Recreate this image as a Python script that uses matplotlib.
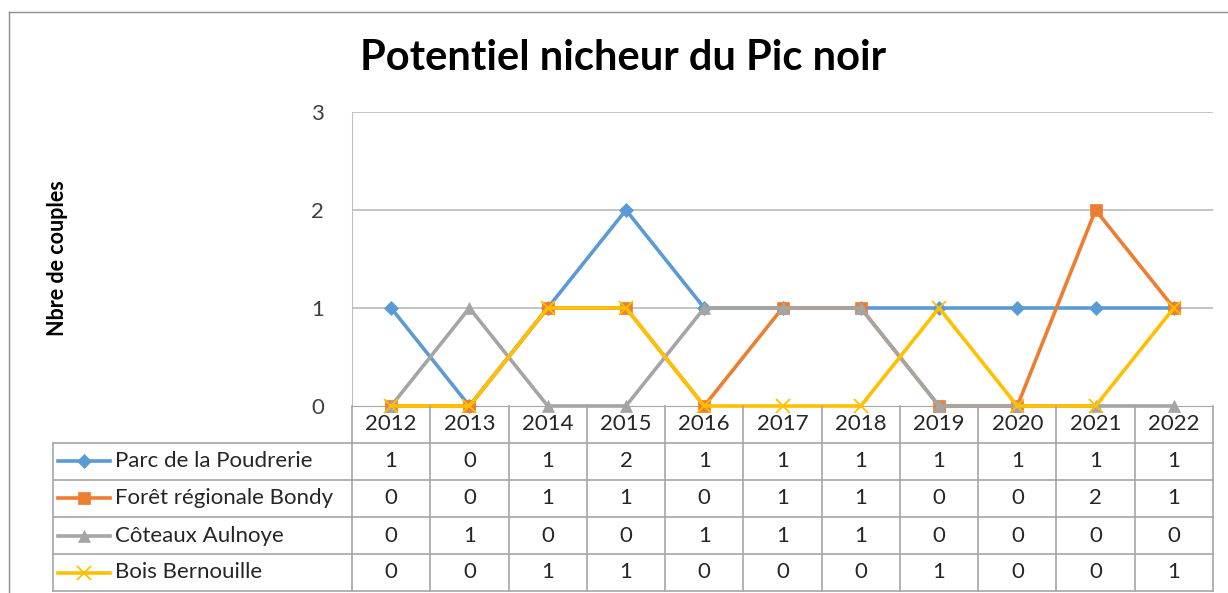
import matplotlib.pyplot as plt
from matplotlib.lines import Line2D

years = ["2012", "2013", "2014", "2015", "2016", "2017", "2018", "2019", "2020", "2021", "2022"]
names = ["Parc de la Poudrerie", "Forêt régionale Bondy", "Côteaux Aulnoye", "Bois Bernouille"]
parc = [1, 0, 1, 2, 1, 1, 1, 1, 1, 1, 1]
foret = [0, 0, 1, 1, 0, 1, 1, 0, 0, 2, 1]
coteaux = [0, 1, 0, 0, 1, 1, 1, 0, 0, 0, 0]
bois = [0, 0, 1, 1, 0, 0, 0, 1, 0, 0, 1]

series = [parc, foret, coteaux, bois]
colors = ["#5B9BD5", "#ED7D31", "#A5A5A5", "#FFC000"]
markers = ["D", "s", "^", "x"]
msizes = [7, 8, 9, 10]

plt.rcParams['font.family'] = ['Lato', 'DejaVu Sans']

W, H = 1228, 593
fig = plt.figure(figsize=(W / 100, H / 100), dpi=100)

grid_col = "#BFBFBF"
tab_col = "#A6A6A6"
txt_col = "#262626"
fs = 16

# outer chart border (only left and top visible, the picture is cropped)
fig.add_artist(Line2D([9 / W, 9 / W], [0, 1 - 12 / H], color="#8C8C8C", lw=1))
fig.add_artist(Line2D([9 / W, 1], [1 - 12 / H, 1 - 12 / H], color="#8C8C8C", lw=1))

# plot area
x0, x1, ytop, ybot = 352, 1213, 112, 406
ax = fig.add_axes([x0 / W, 1 - ybot / H, (x1 - x0) / W, (ybot - ytop) / H])
x = list(range(len(years)))
ax.set_xlim(-0.5, len(years) - 0.5)
ax.set_ylim(0, 3)
ax.set_yticks([0, 1, 2, 3])
ax.set_xticks([])
ax.tick_params(axis="y", length=0, pad=20, labelsize=fs, labelcolor="#404040")
for y in [1, 2, 3]:
    ax.axhline(y, color=grid_col, lw=1.3, zorder=0)
for s in ["top", "right"]:
    ax.spines[s].set_visible(False)
ax.spines["left"].set_color(grid_col)
ax.spines["bottom"].set_color(tab_col)

for vals, c, m, ms in zip(series, colors, markers, msizes):
    ax.plot(x, vals, color=c, lw=2.6, marker=m, markersize=ms,
            markeredgewidth=1.3 if m == "x" else 0.5, clip_on=False, zorder=3)

# data table below the plot
leg_left = 53
cat_w = (x1 - x0) / len(years)
row_h = 37
tx = fig.add_axes([leg_left / W, 1 - (ybot + 5 * row_h) / H,
                   (x1 - leg_left) / W, 5 * row_h / H])
xl = -0.5 - (x0 - leg_left) / cat_w
tx.set_xlim(xl, len(years) - 0.5)
tx.set_ylim(5, 0)
tx.axis("off")

for r in range(1, 6):
    tx.plot([xl, len(years) - 0.5], [r, r], color=tab_col, lw=1.2, clip_on=False)
for k in range(len(years) + 1):
    tx.plot([k - 0.5, k - 0.5], [0, 5], color=tab_col, lw=1.2, clip_on=False)
tx.plot([xl, xl], [1, 5], color=tab_col, lw=1.2, clip_on=False)

for i, yr in enumerate(years):
    tx.text(i, 0.5, yr, ha="center", va="center", fontsize=fs, color=txt_col)

for r, (nm, vals, c, m, ms) in enumerate(zip(names, series, colors, markers, msizes), start=1):
    kx0 = xl + 5 / cat_w
    kx1 = xl + 57 / cat_w
    tx.plot([kx0, kx1], [r + 0.5, r + 0.5], color=c, lw=2.6)
    tx.plot([(kx0 + kx1) / 2], [r + 0.5], color=c, marker=m, markersize=ms,
            markeredgewidth=1.3 if m == "x" else 0.5)
    tx.text(xl + 62 / cat_w, r + 0.5, nm, ha="left", va="center", fontsize=fs, color=txt_col)
    for i, v in enumerate(vals):
        tx.text(i, r + 0.5, str(v), ha="center", va="center", fontsize=fs, color=txt_col)

fig.text(623 / W, 1 - 58 / H, "Potentiel nicheur du Pic noir", ha="center", va="center",
         fontsize=30, fontweight="bold", color="black")
fig.text(58 / W, 1 - 258 / H, "Nbre de couples", ha="center", va="center", rotation=90,
         fontsize=15.5, fontweight="bold", color="black")

fig.savefig("out.png", dpi=100)
